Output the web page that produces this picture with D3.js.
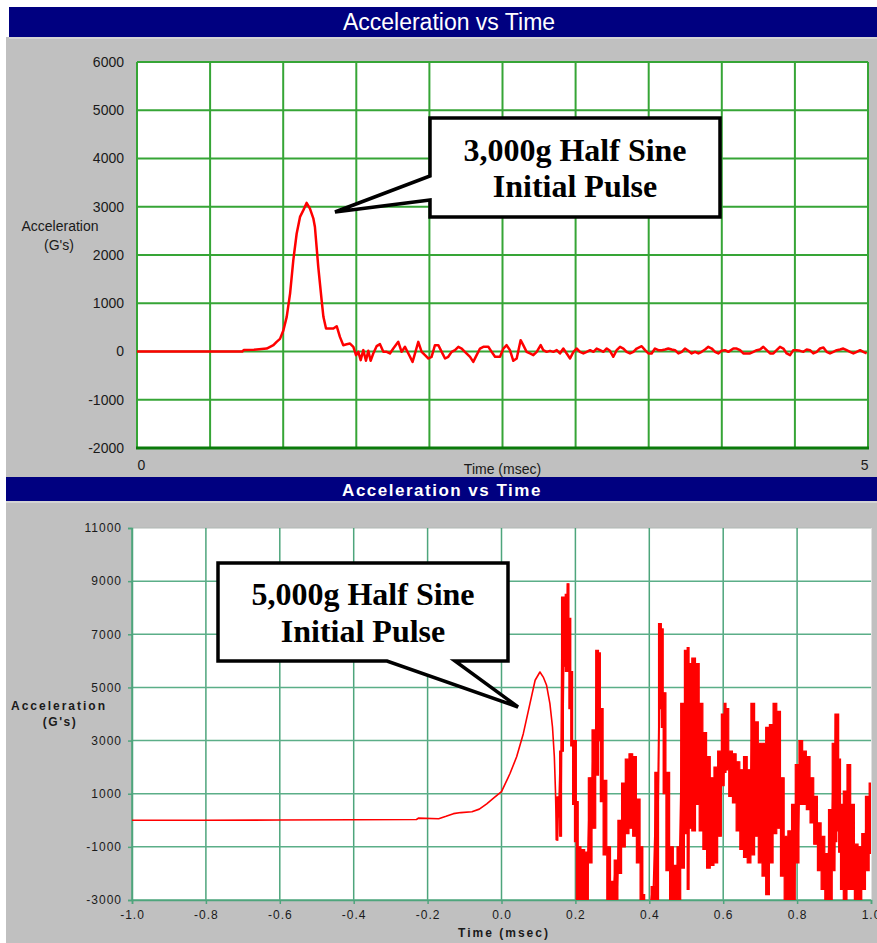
<!DOCTYPE html>
<html lang="en">
<head>
<meta charset="UTF-8">
<title>Acceleration vs Time</title>
<style>
  html, body { margin: 0; padding: 0; background: #fff; }
  svg { display: block; }
</style>
</head>
<body>
<svg id="svg"></svg>
<script src="https://cdn.jsdelivr.net/npm/d3@7"></script>
<script>
// ---------- data ----------
// top chart: 3,000g pulse, time (ms) vs acceleration (G's)
const topXGrid = [0, 0.5, 1, 1.5, 2, 2.5, 3, 3.5, 4, 4.5, 5];
const topXLabels = [0, 5];
const topYTicks = [-2000, -1000, 0, 1000, 2000, 3000, 4000, 5000, 6000];
const topSeries = [
  [0, 0], [0.5, 0], [0.72, 0], [0.73, 30], [0.8, 35], [0.887, 60], [0.933, 130], [0.955, 200],
  [0.978, 262], [1.001, 435], [1.024, 717], [1.047, 1200], [1.069, 1890], [1.092, 2440],
  [1.115, 2790], [1.138, 2930], [1.16, 3080], [1.183, 2960], [1.206, 2760], [1.217, 2580],
  [1.24, 1750], [1.263, 1060], [1.275, 720], [1.293, 476], [1.343, 476], [1.366, 524],
  [1.388, 303], [1.411, 131], [1.434, 150], [1.457, 165], [1.48, 97], [1.498, -76],
  [1.514, -7], [1.53, -179], [1.548, 28], [1.566, -193], [1.582, 14], [1.598, -193],
  [1.616, -41], [1.639, 110], [1.662, 152], [1.685, -7], [1.708, -7], [1.73, -41],
  [1.753, 62], [1.787, 200], [1.81, -7], [1.833, 97], [1.856, -41], [1.885, -214],
  [1.908, 28], [1.924, 200], [1.947, -7], [1.97, -76], [1.993, -145], [2.015, -110],
  [2.038, 131], [2.061, 131], [2.084, -7], [2.107, -145], [2.129, -110], [2.152, -7],
  [2.175, 28], [2.198, 97], [2.221, 62], [2.243, -7], [2.278, -110], [2.3, -214],
  [2.323, -76], [2.346, 62], [2.369, 97], [2.403, 97], [2.426, -7], [2.449, -110],
  [2.483, -110], [2.506, 62], [2.528, 131], [2.551, 28], [2.574, -193], [2.597, -145],
  [2.624, 235], [2.642, 131], [2.665, -7], [2.688, -41], [2.711, -76], [2.734, -7],
  [2.761, 131], [2.779, 28], [2.802, -7], [2.825, 14], [2.848, -7], [2.871, 28],
  [2.893, -41], [2.916, 62], [2.939, -41], [2.962, -145], [2.985, -7], [3.007, 62],
  [3.03, -7], [3.053, -41], [3.076, -7], [3.099, 28], [3.122, -7], [3.144, 62],
  [3.167, 28], [3.19, -7], [3.213, 62], [3.235, 14], [3.258, -110], [3.281, 28],
  [3.304, 97], [3.327, 62], [3.349, -7], [3.372, -41], [3.395, -7], [3.418, 62],
  [3.452, 110], [3.475, 28], [3.498, -41], [3.52, -41], [3.543, 62], [3.566, 28],
  [3.589, 28], [3.612, 41], [3.634, 62], [3.657, 41], [3.68, 28], [3.703, -41],
  [3.726, -7], [3.748, 62], [3.771, 14], [3.794, -41], [3.817, -7], [3.84, -41],
  [3.862, -7], [3.885, 41], [3.908, 97], [3.931, 62], [3.954, -7], [3.976, -41],
  [3.999, 14], [4.022, 28], [4.045, -7], [4.079, 62], [4.102, 62], [4.125, 28],
  [4.147, -41], [4.17, -41], [4.193, -41], [4.216, -7], [4.239, 28], [4.261, 41],
  [4.284, 97], [4.307, 28], [4.33, -41], [4.353, -41], [4.375, 28], [4.398, 97],
  [4.421, 62], [4.444, -41], [4.467, -76], [4.489, 28], [4.512, 28], [4.535, 14],
  [4.558, -7], [4.581, 41], [4.603, 28], [4.626, -41], [4.649, -7], [4.672, 62],
  [4.695, 83], [4.717, -7], [4.74, -41], [4.763, -7], [4.786, 28], [4.809, 41],
  [4.831, 62], [4.854, 28], [4.877, -7], [4.9, -41], [4.923, -7], [4.946, 28],
  [4.968, -7], [4.991, -41]
];

// bottom chart: 5,000g pulse, [time (ms), low, high] per sample bin
const botXTicks = [-1.0, -0.8, -0.6, -0.4, -0.2, 0, 0.2, 0.4, 0.6, 0.8, 1.0];
const botYTicks = [-3000, -1000, 1000, 3000, 5000, 7000, 9000, 11000];
const botSeries = [
  [-1.0, 0, 0], [-0.8, 0, 0], [-0.6, 10, 10], [-0.4, 20, 20], [-0.23, 30, 30], [-0.225, 80, 80],
  [-0.17, 60, 60], [-0.15, 150, 150], [-0.13, 250, 250], [-0.11, 290, 290], [-0.08, 320, 320],
  [-0.06, 420, 420], [-0.04, 620, 620], [-0.02, 850, 850], [0.0, 1080, 1080], [0.023, 1760, 1760],
  [0.041, 2390, 2390], [0.059, 3260, 3260], [0.077, 4390, 4390], [0.091, 5270, 5270],
  [0.104, 5580, 5580], [0.113, 5390, 5390], [0.122, 5080, 5080], [0.131, 4390, 4390],
  [0.138, 3510, 3510], [0.143, 2390, 2390], [0.146, 1130, 1130], [0.149, -750, -750],
  [0.15, -750, 880], [0.155, 130, 880], [0.16, -600, 2600], [0.165, 2600, 8400], [0.17, 5800, 8400],
  [0.175, 5600, 8500], [0.18, 5600, 8900], [0.185, 4200, 7600], [0.19, 2800, 5600],
  [0.195, 600, 3000], [0.2, -800, 3000], [0.205, -3400, 700], [0.21, -3400, -1000],
  [0.22, -3400, -1100], [0.23, -3400, -1200], [0.24, -1600, 1600], [0.25, -300, 3400],
  [0.26, 1700, 6400], [0.265, 3000, 6300], [0.27, 700, 4200], [0.28, -1300, 1500],
  [0.29, -3400, -1000], [0.3, -3400, -2300], [0.31, -3400, -1500], [0.32, -2000, 0],
  [0.33, -1000, 1400], [0.34, -500, 2300], [0.35, -300, 2500], [0.36, -600, 2400],
  [0.37, -1600, 800], [0.38, -3400, -1000], [0.385, -3400, -2800], [0.39, -3600, -3400],
  [0.4, -3600, -3400], [0.41, -3400, -2500], [0.42, -3000, 1800], [0.43, 4200, 7400],
  [0.435, 3500, 7200], [0.44, 1000, 4800], [0.45, -1900, 1800], [0.46, -3400, -1000],
  [0.47, -3400, -1700], [0.48, -3400, -1000], [0.49, -1800, 4400], [0.5, -500, 6400],
  [0.505, -2600, 6500], [0.51, -300, 5900], [0.52, -400, 6100], [0.53, 600, 5900],
  [0.54, -400, 4400], [0.55, -1100, 3300], [0.56, -1800, 2400], [0.57, -1700, 1600],
  [0.58, -1600, 2000], [0.59, -600, 2600], [0.6, 1300, 4000], [0.605, 1800, 4400],
  [0.61, 1900, 4200], [0.62, 900, 2600], [0.63, 650, 2500], [0.64, -400, 2200],
  [0.65, -1100, 1900], [0.66, -1400, 2400], [0.67, -1600, 1900], [0.68, -1300, 4400],
  [0.69, -600, 3700], [0.7, -1600, 2900], [0.71, -2100, 2900], [0.72, -2800, 3500],
  [0.73, -1600, 3600], [0.74, -500, 4400], [0.75, -300, 4100], [0.76, -2100, 1600],
  [0.77, -3400, -600], [0.78, -3400, -400], [0.79, -3400, 600], [0.8, -1600, 2100],
  [0.81, 600, 3000], [0.82, 600, 2600], [0.83, 400, 2400], [0.84, -100, 1600],
  [0.85, -900, 900], [0.86, -1900, -100], [0.87, -2600, -600], [0.88, -3400, -1250],
  [0.89, -3400, 400], [0.9, -1900, 2900], [0.905, -800, 4000], [0.91, -400, 4000],
  [0.915, -1200, 2300], [0.92, -2600, 600], [0.93, -3400, 1100], [0.94, -2600, 2100],
  [0.95, -2600, 600], [0.96, -3400, -900], [0.97, -3400, -1000], [0.98, -2600, -500],
  [0.99, -1900, 900], [1.0, -1250, 1400]
];

// ---------- drawing ----------
const width = 877, height = 943;
const sans = "'Liberation Sans', Arial, sans-serif";
const serif = "'Liberation Serif', 'Times New Roman', serif";

const svg = d3.select("#svg").attr("width", width).attr("height", height);

// panel backgrounds and title bars
svg.append("rect").attr("x", 6).attr("y", 37).attr("width", 871).attr("height", 440).attr("fill", "#c0c0c0");
svg.append("rect").attr("x", 9).attr("y", 7).attr("width", 868).attr("height", 30).attr("fill", "#000080");
svg.append("line").attr("x1", 9).attr("x2", 877).attr("y1", 38).attr("y2", 38).attr("stroke", "#e8e8e8");
svg.append("text").attr("x", 449).attr("y", 30).attr("text-anchor", "middle")
  .attr("font-family", sans).attr("font-size", 23).attr("fill", "#fff").text("Acceleration vs Time");

svg.append("rect").attr("x", 6).attr("y", 477).attr("width", 871).attr("height", 466).attr("fill", "#c0c0c0");
svg.append("rect").attr("x", 6).attr("y", 477).attr("width", 871).attr("height", 24).attr("fill", "#000080");
svg.append("line").attr("x1", 6).attr("x2", 877).attr("y1", 502).attr("y2", 502).attr("stroke", "#e8e8e8");
svg.append("text").attr("x", 442).attr("y", 496).attr("text-anchor", "middle")
  .attr("font-family", sans).attr("font-size", 17).attr("font-weight", "bold")
  .attr("letter-spacing", 1.5).attr("fill", "#fff").text("Acceleration vs Time");

// ===== top chart =====
const t = { left: 137, right: 868, top: 62, bottom: 448 };
const x1 = d3.scaleLinear().domain([0, 5]).range([t.left, t.right]);
const y1 = d3.scaleLinear().domain([-2000, 6000]).range([t.bottom, t.top]);

const g1 = svg.append("g");
g1.append("rect").attr("x", t.left).attr("y", t.top)
  .attr("width", t.right - t.left).attr("height", t.bottom - t.top).attr("fill", "#fff");

g1.append("g").selectAll("line").data(topXGrid).join("line")
  .attr("x1", d => x1(d)).attr("x2", d => x1(d))
  .attr("y1", t.top).attr("y2", t.bottom)
  .attr("stroke", "#36a536").attr("stroke-width", 2);
g1.append("g").selectAll("line").data(topYTicks).join("line")
  .attr("x1", t.left).attr("x2", t.right)
  .attr("y1", d => y1(d)).attr("y2", d => y1(d))
  .attr("stroke", "#36a536").attr("stroke-width", 2);
g1.append("line").attr("x1", t.left - 1).attr("x2", t.right + 1)
  .attr("y1", t.bottom).attr("y2", t.bottom)
  .attr("stroke", "#0a7a0a").attr("stroke-width", 3);

g1.append("g").attr("transform", `translate(${t.left},0)`)
  .call(d3.axisLeft(y1).tickValues(topYTicks).tickSize(0).tickPadding(13).tickFormat(d => String(d)))
  .call(g => g.select(".domain").remove())
  .call(g => g.selectAll("text").attr("font-family", sans).attr("font-size", 14).attr("fill", "#1a1a1a"));

g1.append("g").attr("transform", `translate(0,${t.bottom})`)
  .call(d3.axisBottom(x1).tickValues(topXLabels).tickSize(0).tickPadding(12).tickFormat(d => String(d)))
  .call(g => g.select(".domain").remove())
  .call(g => g.selectAll("text").attr("font-family", sans).attr("font-size", 14).attr("fill", "#1a1a1a")
    .attr("text-anchor", d => d === 0 ? "start" : "end"));

g1.append("text").attr("x", (t.left + t.right) / 2).attr("y", 474).attr("text-anchor", "middle")
  .attr("font-family", sans).attr("font-size", 14).attr("fill", "#1a1a1a").text("Time (msec)");
g1.append("text").attr("x", 60).attr("y", 231).attr("text-anchor", "middle")
  .attr("font-family", sans).attr("font-size", 14).attr("fill", "#1a1a1a").text("Acceleration");
g1.append("text").attr("x", 59).attr("y", 250).attr("text-anchor", "middle")
  .attr("font-family", sans).attr("font-size", 14).attr("fill", "#1a1a1a").text("(G's)");

svg.append("clipPath").attr("id", "clipTop").append("rect")
  .attr("x", t.left).attr("y", t.top).attr("width", t.right - t.left).attr("height", t.bottom - t.top);

const line1 = d3.line().x(d => x1(d[0])).y(d => y1(d[1]));
g1.append("path").datum(topSeries).attr("clip-path", "url(#clipTop)")
  .attr("d", line1).attr("fill", "none").attr("stroke", "#ff0000")
  .attr("stroke-width", 2.5).attr("stroke-linejoin", "round");

// callout top
g1.append("path")
  .attr("d", "M430,118 H720 V217 H430 V200 L335,212 L430,176 Z")
  .attr("fill", "#fff").attr("stroke", "#000").attr("stroke-width", 3.5).attr("stroke-linejoin", "miter");
g1.append("text").attr("x", 575).attr("y", 161).attr("text-anchor", "middle")
  .attr("font-family", serif).attr("font-weight", "bold").attr("font-size", 32).text("3,000g Half Sine");
g1.append("text").attr("x", 575).attr("y", 197).attr("text-anchor", "middle")
  .attr("font-family", serif).attr("font-weight", "bold").attr("font-size", 32).text("Initial Pulse");

// ===== bottom chart =====
const b = { left: 132, right: 871, top: 528, bottom: 900 };
const x2 = d3.scaleLinear().domain([-1, 1]).range([b.left, b.right]);
const y2 = d3.scaleLinear().domain([-3000, 11000]).range([b.bottom, b.top]);

const g2 = svg.append("g");
g2.append("rect").attr("x", b.left).attr("y", b.top)
  .attr("width", b.right - b.left).attr("height", b.bottom - b.top).attr("fill", "#fff");
g2.append("line").attr("x1", b.left).attr("x2", b.right).attr("y1", b.top).attr("y2", b.top)
  .attr("stroke", "#b0b8b4").attr("stroke-width", 1);
g2.append("line").attr("x1", b.right + 0.5).attr("x2", b.right + 0.5).attr("y1", b.top).attr("y2", b.bottom)
  .attr("stroke", "#e0e0e0").attr("stroke-width", 1);

g2.append("g").selectAll("line").data(botXTicks.slice(0, -1)).join("line")
  .attr("x1", d => x2(d)).attr("x2", d => x2(d))
  .attr("y1", b.top).attr("y2", b.bottom)
  .attr("stroke", "#4ea57c").attr("stroke-width", 1.5);
g2.append("g").selectAll("line").data(botYTicks.slice(0, -1)).join("line")
  .attr("x1", b.left).attr("x2", b.right)
  .attr("y1", d => y2(d)).attr("y2", d => y2(d))
  .attr("stroke", "#5bae88").attr("stroke-width", 1.5);

g2.append("g").attr("transform", `translate(${b.left},0)`)
  .call(d3.axisLeft(y2).tickValues(botYTicks).tickSize(4).tickPadding(6).tickFormat(d => String(d)))
  .call(g => g.select(".domain").attr("stroke", "#4ea57c").attr("stroke-width", 1.5))
  .call(g => g.selectAll(".tick line").attr("stroke", "#4ea57c").attr("stroke-width", 1.5))
  .call(g => g.selectAll("text").attr("font-family", sans).attr("font-size", 12)
    .attr("letter-spacing", 1).attr("fill", "#1a1a1a"));

g2.append("g").attr("transform", `translate(0,${b.bottom})`)
  .call(d3.axisBottom(x2).tickValues(botXTicks).tickSize(4).tickPadding(6).tickFormat(d => d.toFixed(1)))
  .call(g => g.select(".domain").attr("stroke", "#4ea57c").attr("stroke-width", 1.5))
  .call(g => g.selectAll(".tick line").attr("stroke", "#4ea57c").attr("stroke-width", 1.5))
  .call(g => g.selectAll("text").attr("font-family", sans).attr("font-size", 12)
    .attr("letter-spacing", 1).attr("fill", "#1a1a1a"));

g2.append("text").attr("x", 504).attr("y", 937).attr("text-anchor", "middle")
  .attr("font-family", sans).attr("font-size", 12).attr("font-weight", "bold")
  .attr("letter-spacing", 2).attr("fill", "#1a1a1a").text("Time (msec)");
g2.append("text").attr("x", 59).attr("y", 710).attr("text-anchor", "middle")
  .attr("font-family", sans).attr("font-size", 12).attr("font-weight", "bold")
  .attr("letter-spacing", 2).attr("fill", "#1a1a1a").text("Acceleration");
g2.append("text").attr("x", 60).attr("y", 726).attr("text-anchor", "middle")
  .attr("font-family", sans).attr("font-size", 12).attr("font-weight", "bold")
  .attr("letter-spacing", 1.5).attr("fill", "#1a1a1a").text("(G's)");

svg.append("clipPath").attr("id", "clipBot").append("rect")
  .attr("x", b.left).attr("y", b.top).attr("width", b.right - b.left).attr("height", b.bottom - b.top);

// smooth part (single valued) as a plain line
const smooth = botSeries.filter(d => d[1] === d[2]);
const line2 = d3.line().x(d => x2(d[0])).y(d => y2(d[1]));
g2.append("path").datum(smooth).attr("clip-path", "url(#clipBot)")
  .attr("d", line2).attr("fill", "none").attr("stroke", "#ff0000")
  .attr("stroke-width", 1.6).attr("stroke-linejoin", "round");

// dense ringing part: min/max bins, filled as steps and joined by vertical strokes
const ringing = botSeries.filter(d => d[0] >= 0.149);
const area2 = d3.area().curve(d3.curveStep)
  .x(d => x2(d[0])).y0(d => y2(d[1])).y1(d => y2(d[2]));
g2.append("path").datum(ringing).attr("clip-path", "url(#clipBot)")
  .attr("d", area2).attr("fill", "#ff0000").attr("stroke", "#ff0000").attr("stroke-width", 1.2);
const zig = ringing.flatMap(d => [[d[0], d[2]], [d[0], d[1]]]);
g2.append("path").datum(zig).attr("clip-path", "url(#clipBot)")
  .attr("d", line2).attr("fill", "none").attr("stroke", "#ff0000").attr("stroke-width", 2);

// callout bottom
g2.append("path")
  .attr("d", "M218,563 H508 V661 H455 L518,707 L387,661 H218 Z")
  .attr("fill", "#fff").attr("stroke", "#000").attr("stroke-width", 3.5).attr("stroke-linejoin", "miter");
g2.append("text").attr("x", 363).attr("y", 605).attr("text-anchor", "middle")
  .attr("font-family", serif).attr("font-weight", "bold").attr("font-size", 32).text("5,000g Half Sine");
g2.append("text").attr("x", 363).attr("y", 642).attr("text-anchor", "middle")
  .attr("font-family", serif).attr("font-weight", "bold").attr("font-size", 32).text("Initial Pulse");
</script>
</body>
</html>
